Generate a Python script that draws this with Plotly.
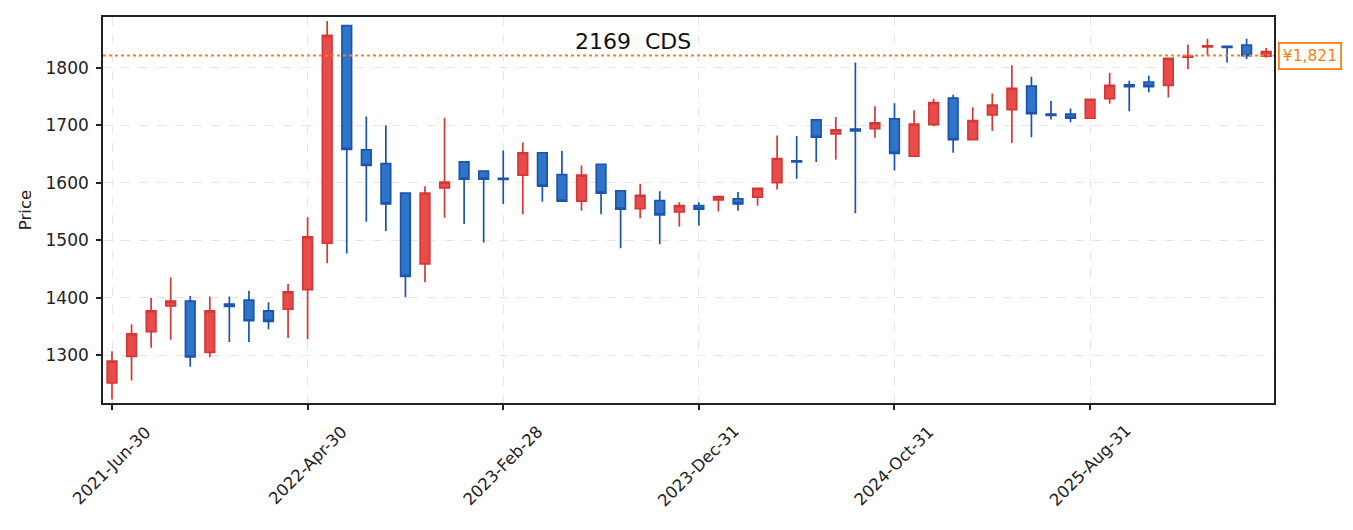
import pandas as pd
import plotly.graph_objects as go

dates = list(pd.date_range("2021-06-30", periods=60, freq="ME").strftime("%Y-%b-%d"))

open_ = [1252, 1298, 1341, 1386, 1394, 1305, 1389, 1396, 1377, 1380,
         1414, 1495, 1873, 1657, 1633, 1582, 1459, 1591, 1636, 1620,
         1607.5, 1613, 1652, 1614, 1568, 1632, 1586, 1555, 1569, 1549,
         1560, 1570, 1572, 1575, 1600, 1638, 1709, 1685, 1693, 1694,
         1711, 1646, 1701, 1747, 1675, 1718, 1727, 1768, 1719, 1719,
         1712, 1746, 1770, 1775, 1769, 1818, 1836, 1837, 1839, 1820]
high = [1307, 1354, 1400, 1435, 1403, 1402, 1402, 1412, 1392, 1424,
        1540, 1881, 1873, 1715, 1700, 1582, 1594, 1713, 1636, 1620,
        1656, 1670, 1652, 1655, 1630, 1632, 1586, 1598, 1585, 1566,
        1566, 1576, 1584, 1590, 1682, 1681, 1709, 1714, 1809, 1733,
        1738, 1726, 1746, 1753, 1731, 1755, 1804, 1784, 1742, 1729,
        1745, 1791, 1777, 1786, 1816, 1840, 1850, 1838, 1850, 1834]
low = [1223, 1256, 1313, 1327, 1280, 1297, 1323, 1323, 1345, 1330,
       1328, 1460, 1477, 1532, 1516, 1401, 1427, 1539, 1528, 1496,
       1563, 1545, 1567, 1567, 1551, 1545, 1486, 1538, 1493, 1524,
       1525, 1550, 1551, 1560, 1588, 1607, 1636, 1640, 1547, 1678,
       1621, 1646, 1698, 1652, 1674, 1690, 1669, 1679, 1710, 1705,
       1712, 1737, 1724, 1757, 1748, 1797, 1821, 1809, 1815, 1817]
close = [1290, 1337, 1377, 1394, 1297, 1377, 1385, 1360, 1359, 1410,
         1506, 1856, 1658, 1630, 1563, 1437, 1582, 1601, 1606, 1606,
         1605.5, 1652, 1594, 1568, 1613, 1582, 1554, 1578, 1544, 1560,
         1554, 1576, 1563, 1590, 1642, 1636, 1679, 1692, 1690, 1704,
         1651, 1702, 1739, 1675, 1708, 1735, 1764, 1720, 1717, 1712,
         1745, 1769, 1767, 1767, 1816, 1820, 1838, 1835, 1821, 1828]

y_ticks = [1300, 1400, 1500, 1600, 1700, 1800]
x_tick_labels = dates[::10]
last_price = 1821
title_text = "2169\u00a0\u00a0CDS"

FONT = "DejaVu Sans, sans-serif"
ORANGE = "#ff7f0e"

fig = go.Figure()
fig.add_trace(go.Candlestick(
    x=dates, open=open_, high=high, low=low, close=close,
    increasing=dict(line=dict(color="#d43836", width=1.7), fillcolor="#e84c4a"),
    decreasing=dict(line=dict(color="#1b54aa", width=1.7), fillcolor="#2e74c8"),
    whiskerwidth=0,
    showlegend=False,
))

fig.add_shape(type="line", xref="paper", x0=0, x1=1, yref="y", y0=last_price, y1=last_price,
              line=dict(color=ORANGE, width=2, dash="dot"))

fig.add_annotation(xref="paper", x=1.0, xshift=4, xanchor="left", yref="y", y=last_price,
                   text="¥{:,}".format(last_price), showarrow=False,
                   font=dict(family=FONT, size=15.5, color=ORANGE),
                   bgcolor="white", bordercolor=ORANGE, borderwidth=1.8, borderpad=3)

fig.add_annotation(xref="paper", x=0.4526, yref="paper", y=0.937, text=title_text,
                   showarrow=False, xanchor="center", yanchor="middle",
                   font=dict(family=FONT, size=22, color="#111111"))

for lab in x_tick_labels:
    fig.add_annotation(xref="x", x=dates.index(lab), yref="paper", y=-0.162,
                       text=lab, textangle=-45, showarrow=False,
                       xanchor="center", yanchor="middle",
                       font=dict(family=FONT, size=16.5, color="#222222"))

axis_common = dict(showline=True, linecolor="#222222", linewidth=1.6, mirror=True,
                   ticks="outside", ticklen=5, tickwidth=1.6, tickcolor="#222222",
                   showgrid=True, gridcolor="#e6e6e6", gridwidth=1.2, griddash="dash",
                   zeroline=False)

fig.update_layout(
    width=1345, height=522,
    margin=dict(l=95, r=79, t=7, b=127),
    paper_bgcolor="white", plot_bgcolor="white",
    font=dict(family=FONT, size=17, color="#222222"),
    xaxis=dict(type="category", range=[-0.46, 59.4], tickvals=x_tick_labels,
               showticklabels=False, rangeslider=dict(visible=False), **axis_common),
    yaxis=dict(range=[1217, 1888], tickvals=y_ticks, ticklabelstandoff=4,
               title=dict(text="Price", standoff=10, font=dict(size=16.5)),
               **axis_common),
)

fig.write_html("out.html")
